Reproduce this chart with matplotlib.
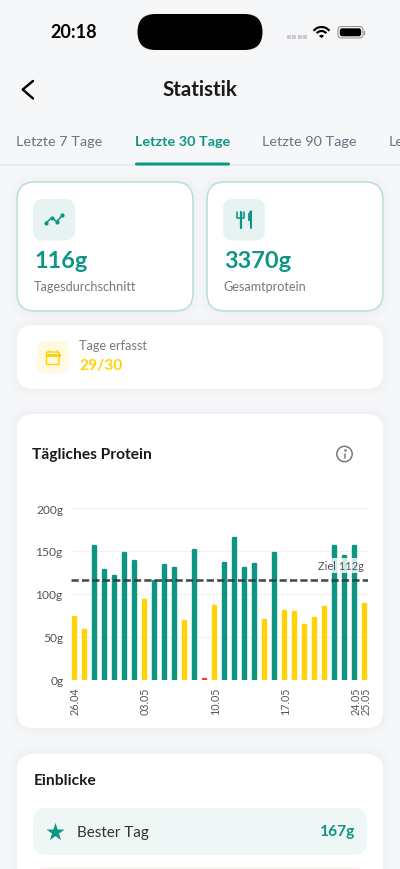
import matplotlib
matplotlib.use("Agg")
import matplotlib.pyplot as plt
from matplotlib.patches import FancyBboxPatch, Arc, Circle, Wedge
from matplotlib.transforms import ScaledTranslation

plt.rcParams['font.family'] = ['Lato', 'DejaVu Sans']

# values
protein = [74.6, 59.4, 157, 129, 122, 149.5, 140, 94, 116.5, 135, 132, 70, 153, 2, 87,
           137.5, 166.6, 131, 136, 71.5, 149.5, 82, 80, 65, 73, 86, 157, 146, 157, 89]
goal_line = 116
goal_label = "Ziel 112g"
y_ticks = [0, 50, 100, 150, 200]
y_labels = ["0g", "50g", "100g", "150g", "200g"]
x_ticks = [0, 7, 14, 21, 28, 29]
x_labels = ["26.04", "03.05", "10.05", "17.05", "24.05", "25.05"]
tabs = ["Letzte 7 Tage", "Letzte 30 Tage", "Letzte 90 Tage", "Le"]

TEAL = "#0E9584"
YELLOW = "#FFD30A"
RED = "#FF3B30"
PX = 0.72  # 1 px in points at dpi 100

fig = plt.figure(figsize=(4, 8.7), dpi=100, facecolor="#F6F7F9")

# whole screen axes, works in pixels
ui = fig.add_axes([0, 0, 1, 1], zorder=0)
ui.set_xlim(0, 400)
ui.set_ylim(869, -1)
ui.axis("off")


def box(x, y, w, h, r, fc, ec="none", lw=0, z=2):
    ui.add_patch(FancyBboxPatch((x, y), w, h, boxstyle=f"round,pad=0,rounding_size={r}",
                                fc=fc, ec=ec, lw=lw * PX, zorder=z))


def card(x, y, w, h, r, ec="none", lw=0):
    # faint shadow
    for grow in (8, 5, 2):
        ui.add_patch(FancyBboxPatch((x - grow, y - grow), w + 2 * grow, h + 2 * grow,
                                    boxstyle=f"round,pad=0,rounding_size={r + grow}",
                                    fc="#8A90A0", ec="none", alpha=0.012, zorder=1))
    box(x, y, w, h, r, "white", ec, lw)


def label(x, y, s, px, color="#222222", weight="normal", ha="left"):
    ui.text(x, y, s, fontsize=px * PX, color=color, fontweight=weight, ha=ha, va="center", zorder=5)


def stroke(xs, ys, color, w, cap="round"):
    ui.plot(xs, ys, color=color, lw=w * PX, solid_capstyle=cap, solid_joinstyle="round", zorder=5)


# status bar
label(73.5, 32, "20:18", 18, "black", "bold", "center")
box(137.5, 14, 125, 36, 18, "black", z=3)
ui.scatter([288.5, 294, 299.5, 304.5], [37, 37, 37, 37], s=5, marker="s", color="#C9C9CC", lw=0, zorder=5)
for r in (6, 10):
    ui.add_patch(Arc((321.5, 37), 2 * r, 2 * r, theta1=218, theta2=322, color="black", lw=2.2 * PX, zorder=5))
ui.add_patch(Wedge((321.5, 38), 3.2, 218, 322, fc="black", ec="none", zorder=5))
box(338, 26.5, 25, 11.5, 3.5, "none", "#8E8E93", 1, z=4)
box(339.8, 28.3, 21.4, 8, 2.4, "black", z=5)
stroke([364.3, 364.3], [30.5, 34], "#8E8E93", 1.2)

# header
stroke([33, 22.7, 33], [81, 89.5, 98.5], "black", 2.4)
label(200, 89.5, "Statistik", 20.5, "#1A1A1A", "bold", "center")

# tabs
for tab, x, col in zip(tabs, [16, 135, 262, 389], ["#6B7280", TEAL, "#6B7280", "#6B7280"]):
    label(x, 141, tab, 14.4, col, "bold" if col == TEAL else "normal")
ui.plot([0, 400], [164.5, 164.5], color="#E8E9EC", lw=1.5 * PX, zorder=2)
box(135, 162.5, 95, 3, 1.5, TEAL, z=3)

# summary cards
card(17, 182, 176, 129, 18, "#B4DFDA", 1.5)
card(207, 182, 176, 129, 18, "#B4DFDA", 1.5)
box(33, 199, 42, 41.5, 10, "#E7F3F2", z=3)
box(223, 199, 42, 41.5, 10, "#E7F3F2", z=3)
label(34, 261, "116g", 23.5, TEAL, "bold")
label(224, 261, "3370g", 23.5, TEAL, "bold")
label(33.5, 286, "Tagesdurchschnitt", 12.6, "#787878")
label(223.5, 286, "Gesamtprotein", 12.6, "#787878")

# trend icon
icon_x = [45.7, 51.7, 56.7, 62.3]
icon_y = [223.3, 217.7, 221.7, 215.3]
stroke(icon_x, icon_y, TEAL, 1.6)
ui.scatter(icon_x, icon_y, s=9, color=TEAL, lw=0, zorder=5)

# fork and knife icon
stroke([240.5, 240.5], [212, 228], TEAL, 2.2)
stroke([236.8, 236.8, 244.2, 244.2], [211.5, 218, 218, 211.5], TEAL, 1.6)
stroke([240.5, 240.5], [211.5, 216], TEAL, 1.4)
stroke([251.3, 251.3], [212, 228], TEAL, 2.0)
stroke([249.3, 249.3, 251], [220, 214, 211.5], TEAL, 2.4)

# tracked days card
card(17, 325, 366, 64, 16)
box(37, 341, 31.5, 32, 8, "#FFF9DF", z=3)
box(46.5, 352, 12.5, 12.5, 1.2, "none", YELLOW, 1.5, z=5)
ui.plot([46.5, 59], [354.5, 354.5], color=YELLOW, lw=3 * PX, zorder=5)
stroke([49, 49], [350, 352], YELLOW, 1.3)
stroke([56.5, 56.5], [350, 352], YELLOW, 1.3)
label(79, 345, "Tage erfasst", 12.6, "#787878")
label(79, 365.5, "29/30", 15.5, YELLOW, "bold")

# chart card
card(17, 414, 366, 314, 16)
label(32, 454, "Tägliches Protein", 15.5, "#1A1A1A", "bold")
ui.add_patch(Circle((344.5, 454), 7.7, fc="none", ec="#777777", lw=1.5 * PX, zorder=5))
stroke([344.5, 344.5], [453.5, 458], "#777777", 1.5)
ui.scatter([344.5], [450.3], s=3.5, color="#777777", lw=0, zorder=5)

# insights card
card(17, 754, 366, 140, 16)
label(33.5, 780, "Einblicke", 15.5, "#1A1A1A", "bold")
box(33, 808, 334, 47, 14, "#EEF7F6", z=3)
box(35, 867, 330, 40, 12, "#FFF2F2", z=3)
ui.scatter([54.5], [831.5], s=190, marker="*", color=TEAL, lw=0, zorder=5)
label(77, 832, "Bester Tag", 15.2, "#333333")
label(355, 831, "167g", 15.5, TEAL, "bold", "right")

# the bar chart, axes placed in screen pixels
left, right, base = 71, 368, 680.7
px_per_g = 171.7 / 200
y_top = 205
ax_h = y_top * px_per_g
ax = fig.add_axes([left / 400, (870 - base) / 870, (right - left) / 400, ax_h / 870], zorder=1)
ax.patch.set_alpha(0)
step = 10.03
ax.set_xlim((left - 74) / step, (right - 74) / step)
ax.set_ylim(0, y_top)
for s in ax.spines.values():
    s.set_visible(False)

days = list(range(len(protein)))
colors = [RED if v < 10 else (TEAL if v >= 112 else YELLOW) for v in protein]
bars = ax.bar(days, protein, width=3 / step, color=colors, edgecolor=colors, linewidth=2.4 * PX, zorder=2)
# thick round-joined edge gives the rounded tops, move it back down by half its width
shift = ScaledTranslation(0, -1.2 / 100, fig.dpi_scale_trans)
for b in bars:
    b.set_joinstyle("round")
    b.set_transform(ax.transData + shift)

ax.set_yticks(y_ticks, y_labels)
ax.set_xticks(x_ticks, x_labels, rotation=90)
ax.tick_params(axis="y", length=0, pad=7.5 * PX, labelsize=12 * PX, labelcolor="#555555")
ax.tick_params(axis="x", length=0, pad=7 * PX, labelsize=10.8 * PX, labelcolor="#555555")
ax.grid(axis="y", color="#F1F2F4", lw=1.2 * PX, zorder=0)
ax.set_axisbelow(True)

# tick labels sit a pixel further right than matplotlib centres them
nudge = ScaledTranslation(1 / 100, 0, fig.dpi_scale_trans)
for t in ax.get_xticklabels():
    t.set_transform(t.get_transform() + nudge)

ax.axhline(goal_line, color="#2F3A3A", lw=2.6 * PX, alpha=0.9, dashes=(2.8, 1.2), zorder=3)
ax.annotate(goal_label, xy=(days[-1], goal_line), xytext=(-1, 6.5), textcoords="offset points",
            ha="right", va="bottom", fontsize=11 * PX, color="#555555", zorder=4,
            bbox=dict(boxstyle="square,pad=0.15", fc="white", ec="none", alpha=0.8))

fig.savefig("out.png", dpi=100)
